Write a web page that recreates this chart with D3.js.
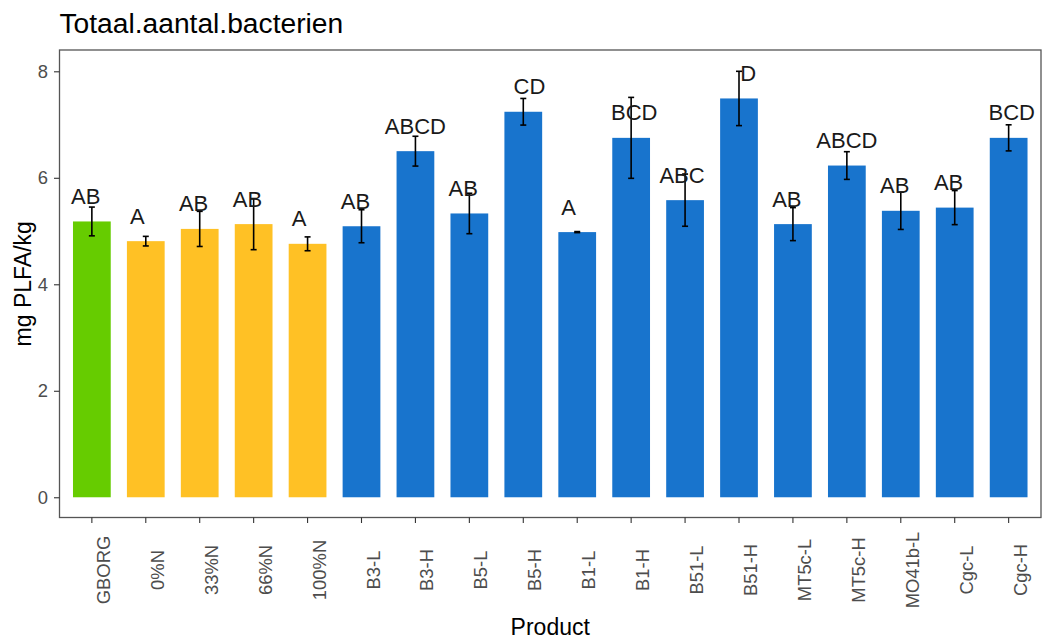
<!DOCTYPE html>
<html>
<head>
<meta charset="utf-8">
<script src="https://cdn.jsdelivr.net/npm/d3@7"></script>
<style>
  body { margin: 0; background: #fff; }
  svg text { font-family: "Liberation Sans", Arial, sans-serif; }
</style>
</head>
<body>
<div id="chart"></div>
<script>
(function () {

  // chart data
  var products = ["GBORG", "0%N", "33%N", "66%N", "100%N", "B3-L", "B3-H", "B5-L", "B5-H",
    "B1-L", "B1-H", "B51-L", "B51-H", "MT5c-L", "MT5c-H", "MO41b-L", "Cgc-L", "Cgc-H"]
  var means = [5.18, 4.81, 5.04, 5.13, 4.76, 5.09, 6.50, 5.33, 7.24,
    4.98, 6.75, 5.58, 7.49, 5.13, 6.23, 5.38, 5.44, 6.75]
  var errors = [0.27, 0.09, 0.33, 0.48, 0.13, 0.31, 0.28, 0.38, 0.25,
    0.01, 0.76, 0.49, 0.51, 0.31, 0.26, 0.35, 0.32, 0.245]
  // compact letters, padded like the original labels
  var letters = ["AB  ", "A   ", "AB  ", "AB  ", "A   ", "AB  ", "ABCD", "AB  ", "  CD",
    "A   ", " BCD", "ABC ", "   D", "AB  ", "ABCD", "AB  ", "AB  ", " BCD"]
  var groups = ["ref", "N", "N", "N", "N", "bio", "bio", "bio", "bio",
    "bio", "bio", "bio", "bio", "bio", "bio", "bio", "bio", "bio"]
  var yTicks = [0, 2, 4, 6, 8]

  var ref_color = "#66CC00"
  var n_color = "#FFC125"
  var bio_color = "#1874CD"

  function groupColor(g) {
    if (g == "ref") {
      return ref_color
    }
    else if (g == "N") {
      return n_color
    }
    return bio_color
  }

  var width = 1042
  var height = 640
  var left = 59.5, right = 1041, top = 50, bottom = 517.5

  var data = products.map(function (p, i) {
    return { product: p, mean: means[i], se: errors[i], label: letters[i], group: groups[i] }
  })

  var svg = d3.select("#chart")
    .append("svg")
    .attr("width", width)
    .attr("height", height)

  var x = d3.scaleBand()
    .domain(products)
    .range([left, right])
    .paddingInner(0.3)
    .paddingOuter(0.25)

  var y = d3.scaleLinear()
    .domain([-0.38, 8.4])
    .range([bottom, top])

  // bars
  svg.selectAll(".bar")
    .data(data)
    .enter()
    .append("rect")
    .attr("class", "bar")
    .attr("x", function (d) { return x(d.product) })
    .attr("width", x.bandwidth())
    .attr("y", function (d) { return y(d.mean) })
    .attr("height", function (d) { return y(0) - y(d.mean) })
    .attr("fill", function (d) { return groupColor(d.group) })

  // error bars
  var err = svg.selectAll(".err")
    .data(data)
    .enter()
    .append("g")
    .attr("class", "err")
    .attr("stroke", "#000")
    .attr("stroke-width", 1.6)

  err.append("line")
    .attr("x1", function (d) { return x(d.product) + x.bandwidth() / 2 })
    .attr("x2", function (d) { return x(d.product) + x.bandwidth() / 2 })
    .attr("y1", function (d) { return y(d.mean + d.se) })
    .attr("y2", function (d) { return y(d.mean - d.se) })

  err.append("line")
    .attr("x1", function (d) { return x(d.product) + x.bandwidth() / 2 - 3 })
    .attr("x2", function (d) { return x(d.product) + x.bandwidth() / 2 + 3 })
    .attr("y1", function (d) { return y(d.mean + d.se) })
    .attr("y2", function (d) { return y(d.mean + d.se) })

  err.append("line")
    .attr("x1", function (d) { return x(d.product) + x.bandwidth() / 2 - 3 })
    .attr("x2", function (d) { return x(d.product) + x.bandwidth() / 2 + 3 })
    .attr("y1", function (d) { return y(d.mean - d.se) })
    .attr("y2", function (d) { return y(d.mean - d.se) })

  // letters above bars
  svg.selectAll(".letter")
    .data(data)
    .enter()
    .append("text")
    .attr("class", "letter")
    .attr("x", function (d) { return x(d.product) + x.bandwidth() / 2 })
    .attr("y", function (d) { return y(d.mean) - 17.5 })
    .attr("text-anchor", "middle")
    .style("white-space", "pre")
    .style("font-size", "22px")
    .attr("fill", "#1a1a1a")
    .text(function (d) { return d.label })

  // panel border
  svg.append("rect")
    .attr("x", left)
    .attr("y", top)
    .attr("width", right - left)
    .attr("height", bottom - top)
    .attr("fill", "none")
    .attr("stroke", "#555")
    .attr("stroke-width", 1.3)

  // axes
  var yAxis = svg.append("g")
    .attr("transform", "translate(" + left + ",0)")
    .call(d3.axisLeft(y).tickValues(yTicks).tickSize(5.5).tickPadding(6))
  yAxis.select(".domain").remove()
  yAxis.selectAll("line").attr("stroke", "#333").attr("stroke-width", 1.1)
  yAxis.selectAll("text")
    .style("font-size", "18.4px")
    .attr("fill", "#4D4D4D")
    .attr("font-family", null)

  var xAxis = svg.append("g")
    .attr("transform", "translate(0," + bottom + ")")
    .call(d3.axisBottom(x).tickSize(5.5))
  xAxis.select(".domain").remove()
  xAxis.selectAll("line").attr("stroke", "#333").attr("stroke-width", 1.1)
  xAxis.selectAll("text")
    .attr("transform", "rotate(-90)")
    .attr("x", -52.5)
    .attr("y", 18)
    .attr("dy", null)
    .attr("text-anchor", "middle")
    .style("font-size", "18.4px")
    .attr("fill", "#4D4D4D")
    .attr("font-family", null)

  // titles
  svg.append("text")
    .attr("x", left)
    .attr("y", 33)
    .style("font-size", "28.2px")
    .attr("fill", "#000")
    .text("Totaal.aantal.bacterien")

  svg.append("text")
    .attr("x", (left + right) / 2)
    .attr("y", 635)
    .attr("text-anchor", "middle")
    .style("font-size", "23px")
    .attr("fill", "#000")
    .text("Product")

  svg.append("text")
    .attr("transform", "translate(31," + (top + bottom) / 2 + ") rotate(-90)")
    .attr("text-anchor", "middle")
    .style("font-size", "23px")
    .attr("fill", "#000")
    .text("mg PLFA/kg")

})();
</script>
</body>
</html>
